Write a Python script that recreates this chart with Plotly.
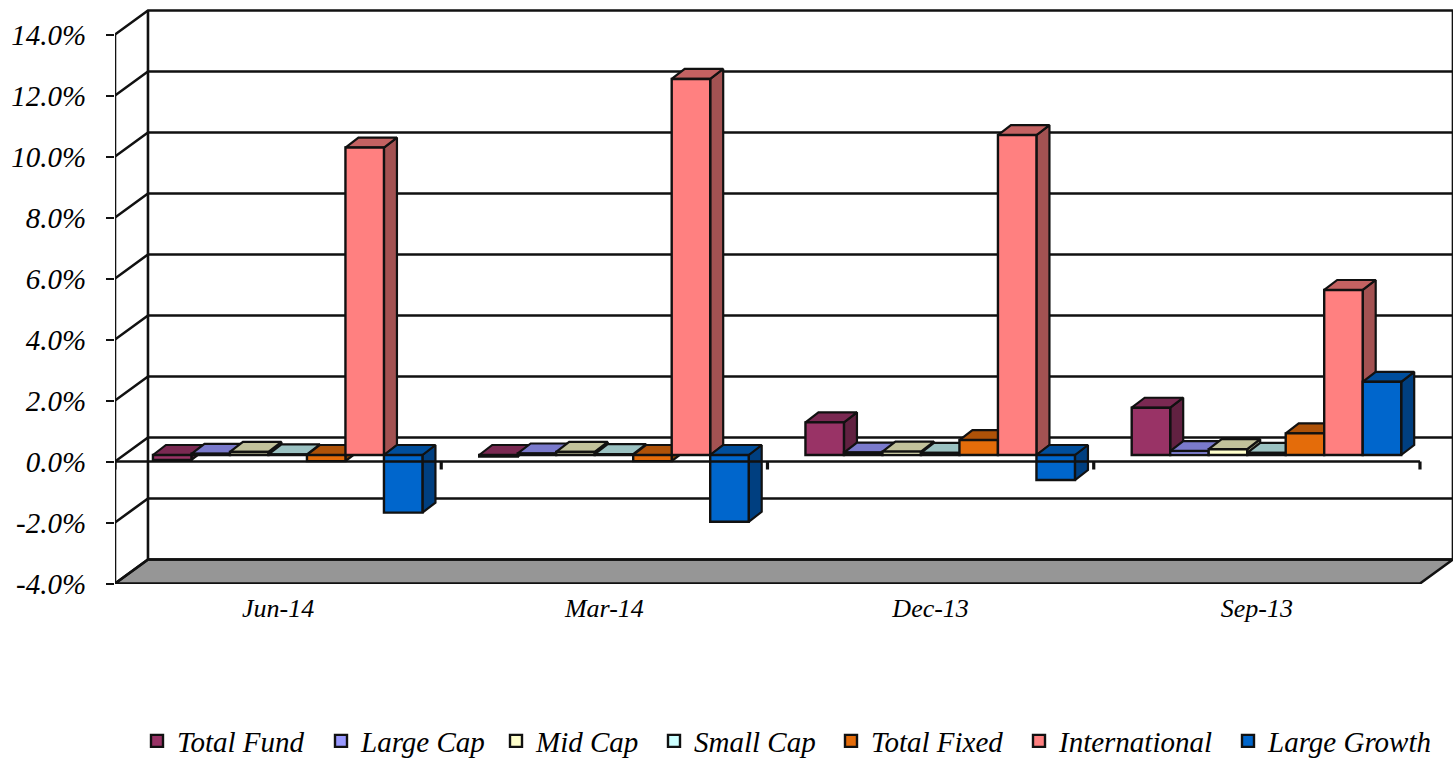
import plotly.graph_objects as go

# ---- data ----
categories = ["Jun-14", "Mar-14", "Dec-13", "Sep-13"]
total_fund = [-0.16, -0.05, 1.07, 1.55]
large_cap = [0.04, 0.05, 0.08, 0.13]
mid_cap = [0.10, 0.10, 0.11, 0.19]
small_cap = [0.02, 0.03, 0.07, 0.07]
total_fixed = [-0.20, -0.20, 0.49, 0.71]
international = [10.08, 12.33, 10.49, 5.41]
large_growth = [-1.89, -2.19, -0.82, 2.40]
series_names = ["Total Fund", "Large Cap", "Mid Cap", "Small Cap",
                "Total Fixed", "International", "Large Growth"]
series_values = [total_fund, large_cap, mid_cap, small_cap,
                 total_fixed, international, large_growth]
tick_values = [-4, -2, 0, 2, 4, 6, 8, 10, 12, 14]
tick_labels = ["-4.0%", "-2.0%", "0.0%", "2.0%", "4.0%", "6.0%", "8.0%", "10.0%", "12.0%", "14.0%"]

# ---- styles ----
front_colors = ["#993366", "#9999FF", "#FFFFCC", "#CCFFFF", "#E46C0A", "#FF8080", "#0066CC"]
top_colors = ["#7A2952", "#7A7ACC", "#C2C29B", "#9BC2C2", "#AE5208", "#C46262", "#004E9C"]
side_colors = ["#612141", "#5C5C99", "#99997A", "#7A9999", "#8A4106", "#A35252", "#003F80"]
legend_left_px = [137, 321, 496, 654, 831, 1019, 1228]
FONT = "Liberation Serif"
W, H = 1453, 761
ML, MT, MB = 115, 5, 177
PX_CAT, PX_PCT = 326.25, 30.5      # pixels per category, pixels per percent
X0_PX, Y0_PX = 278.1, 461.5        # where category 0 / value 0 sit on the front plane
BAR_X0_PX, BAR_Y0_PX = 287.7, 455.0  # same, for the plane holding the bar fronts
BAR_W = 38.5 / PX_CAT
DEPTH_X, DEPTH_Y = 13 / PX_CAT, 10 / PX_PCT   # bar depth
WALL_X, WALL_Y = 33 / PX_CAT, 24 / PX_PCT     # chart box depth
SHIFT_X = (BAR_X0_PX - X0_PX) / PX_CAT
SHIFT_Y = (Y0_PX - BAR_Y0_PX) / PX_PCT
N = len(series_names)
LW = 2.6
LINE = "#111111"


def xr(x0_px):
    return [(ML - x0_px) / PX_CAT, (W - x0_px) / PX_CAT]


def yr(y0_px):
    return [(y0_px - (H - MB)) / PX_PCT, (y0_px - MT) / PX_PCT]


left = -0.5
right = len(categories) - 0.5
low, high = min(tick_values), max(tick_values)

fig = go.Figure()


def poly(xs, ys, fill=None, width=LW, color=LINE, axes=("x", "y")):
    fig.add_trace(go.Scatter(
        x=xs, y=ys, mode="lines", xaxis=axes[0], yaxis=axes[1], cliponaxis=False,
        line=dict(color=color, width=width), hoverinfo="skip", showlegend=False,
        fill="toself" if fill else None, fillcolor=fill))


# floor
poly([left, right, right + WALL_X, left + WALL_X, left],
     [low, low, low + WALL_Y, low + WALL_Y, low], fill="#969696")

# walls and grid on the walls
gx, gy = [], []
for t in tick_values:
    gx += [left, left + WALL_X, right + WALL_X, None]
    gy += [t, t + WALL_Y, t + WALL_Y, None]
for bx in (left, left + WALL_X, right + WALL_X):
    off = 0 if bx == left else WALL_Y
    gx += [bx, bx, None]
    gy += [low + off, high + off, None]
poly(gx, gy)

# depth faces of the bars, painted left to right
for s in range(N):
    tx, ty, sx, sy = [], [], [], []
    for c, v in enumerate(series_values[s]):
        x_l = c + SHIFT_X - N * BAR_W / 2 + s * BAR_W
        x_r = x_l + BAR_W
        top = max(v, 0) + SHIFT_Y
        bot = min(v, 0) + SHIFT_Y
        tx += [x_l, x_r, x_r + DEPTH_X, x_l + DEPTH_X, x_l, None]
        ty += [top, top, top + DEPTH_Y, top + DEPTH_Y, top, None]
        sx += [x_r, x_r + DEPTH_X, x_r + DEPTH_X, x_r, x_r, None]
        sy += [bot, bot + DEPTH_Y, top + DEPTH_Y, top, bot, None]
    poly(sx, sy, fill=side_colors[s], width=2.2)
    poly(tx, ty, fill=top_colors[s], width=2.2)

# bar fronts live on an overlay so they paint above all depth faces
for s in range(N):
    fig.add_trace(go.Bar(
        x=list(range(len(categories))), y=series_values[s], name=series_names[s],
        xaxis="x2", yaxis="y2", legend="legend" if s == 0 else f"legend{s + 1}",
        marker=dict(color=front_colors[s], line=dict(color=LINE, width=2.4)),
        hovertemplate="%{y:.2f}%<extra>" + series_names[s] + "</extra>"))

# zero axis with its category ticks, drawn across the bars
zero = -SHIFT_Y
poly([left - SHIFT_X, right - SHIFT_X], [zero, zero], axes=("x2", "y2"))
tk_x, tk_y = [], []
for i in range(len(categories) + 1):
    b = left - SHIFT_X + i
    tk_x += [b, b, None]
    tk_y += [zero, zero - 8 / PX_PCT, None]
poly(tk_x, tk_y, width=3.2, axes=("x2", "y2"))

legends = {}
for s in range(N):
    legends["legend" if s == 0 else f"legend{s + 1}"] = dict(
        orientation="h", xanchor="left", yanchor="middle",
        x=(legend_left_px[s] - ML) / (W - ML), y=((H - MB) - 741) / (H - MB - MT),
        font=dict(family=FONT, size=29, style="italic", color="black"),
        itemwidth=30, bgcolor="rgba(0,0,0,0)")

fig.update_layout(
    width=W, height=H,
    margin=dict(l=ML, r=0, t=MT, b=MB, autoexpand=False),
    paper_bgcolor="white", plot_bgcolor="white",
    font=dict(family=FONT, color="black"),
    barmode="group", bargap=1 - N * BAR_W, bargroupgap=0,
    xaxis=dict(range=xr(X0_PX), tickvals=list(range(len(categories))), ticktext=categories,
               showgrid=False, zeroline=False, showline=False, ticks="",
               tickfont=dict(family=FONT, size=26, style="italic", color="black"),
               ticklabelstandoff=6),
    yaxis=dict(range=yr(Y0_PX), tickvals=tick_values, ticktext=tick_labels,
               showgrid=False, zeroline=False, showline=False,
               ticks="outside", ticklen=8, tickwidth=1.5, tickcolor=LINE,
               tickfont=dict(family=FONT, size=29, style="italic", color="black"),
               ticklabelstandoff=14),
    xaxis2=dict(range=xr(BAR_X0_PX), overlaying="x", anchor="y2", visible=False),
    yaxis2=dict(range=yr(BAR_Y0_PX), overlaying="y", anchor="x2", visible=False),
    **legends,
)

fig.write_html("out.html", config=dict(displayModeBar=False),
               post_script="document.body.style.margin='0';document.body.style.overflow='hidden';")
